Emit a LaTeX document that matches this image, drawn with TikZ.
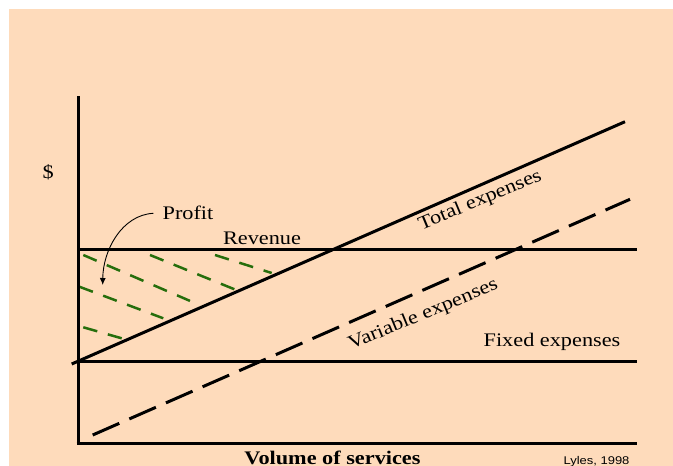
\documentclass[tikz,border=0pt]{standalone}
\usepackage{fontspec}
\setmainfont{Liberation Serif}
\newfontfamily\lsans{Liberation Sans}
\usetikzlibrary{arrows.meta}
\definecolor{peach}{RGB}{254,219,187}
\definecolor{hatchgreen}{RGB}{38,110,12}
\tikzset{
  lbl/.style={inner sep=0pt, anchor=base, font=\fontsize{19.2}{23}\selectfont},
  axisline/.style={line width=3pt},
  solidline/.style={line width=3pt},
  varline/.style={line width=3pt, dash pattern=on 29pt off 11pt},
  hatch/.style={line width=2.5pt, hatchgreen, dash pattern=on 14.5pt off 11pt},
}
\newcommand{\wide}[1]{\scalebox{1.16}[1]{#1}}
\begin{document}
\begin{tikzpicture}[x=1pt,y=-1pt]
\useasboundingbox (0,0) rectangle (673,466);
\fill[white] (0,0) rectangle (673,466);
\fill[peach] (8.5,8.5) rectangle (673,466);
% coordinates
\coordinate (ytop) at (78,96);
\coordinate (ybot) at (78,443.5);
\coordinate (xl) at (76.5,443.5);
\coordinate (xr) at (637,443.5);
\coordinate (revl) at (78,249);
\coordinate (revr) at (637,249);
\coordinate (fixl) at (78,361.7);
\coordinate (fixr) at (637,361.7);
\coordinate (totl) at (71.7,364);
\coordinate (totr) at (625,121.7);
\coordinate (varl) at (92.7,435);
\coordinate (varr) at (630,199.3);
% hatch lines
\draw[hatch] (83.3,255) coordinate (h1a) -- (190,300.9) coordinate (h1b);
\draw[hatch] (150,255) coordinate (h2a) -- (235,289.5) coordinate (h2b);
\draw[hatch] (215,255) coordinate (h3a) -- (271.7,273) coordinate (h3b);
\draw[hatch] (79.3,286.7) coordinate (h4a) -- (163.3,318.3) coordinate (h4b);
\draw[hatch] (83.3,327.3) coordinate (h5a) -- (121.7,338.3) coordinate (h5b);
% main lines
\draw[axisline] (ytop) -- (ybot);
\draw[axisline] (xl) -- (xr);
\draw[solidline] (revl) -- (revr);
\draw[solidline] (fixl) -- (fixr);
\draw[solidline] (totl) -- (totr);
\draw[varline] (varl) -- (varr);
% labels
\node[lbl] (dollar) at (48.3,178.5) {\wide{\$}};
\node[lbl] (profit) at (188,219) {\wide{Profit}};
\node[lbl] (revenue) at (262,244) {\wide{Revenue}};
\node[lbl] (fixed) at (552,346.7) {\wide{Fixed expenses}};
\node[lbl, rotate=22.5] (total) at (482,205) {\wide{Total expenses}};
\node[lbl, rotate=22.5] (variable) at (425,319.2) {\wide{Variable expenses}};
\node[lbl, font=\fontsize{19.2}{23}\selectfont\bfseries] (volume) at (332.5,464.7) {\wide{Volume of services}};
\node[lbl, font=\lsans\fontsize{11.2}{13}\selectfont] (lyles) at (596.5,464.2) {\wide{Lyles, 1998}};
% profit arrow
\coordinate (pstart) at (153.3,213.3);
\coordinate (ptip) at (102.7,285);
\draw[line width=0.9pt, -{Latex[length=7pt,width=6pt]}] (pstart) .. controls (122,215) and (103,250) .. (ptip);
\end{tikzpicture}
\end{document}
